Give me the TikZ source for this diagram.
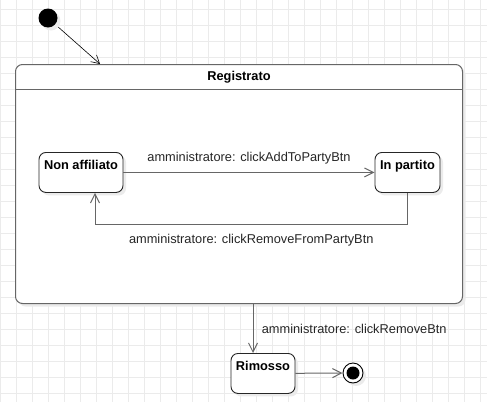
\documentclass[tikz,border=0pt]{standalone}
\usepackage{fontspec}
\setmainfont{Liberation Sans}
\usetikzlibrary{positioning,shadows,arrows.meta,calc}

\begin{document}
\begin{tikzpicture}[x=1pt, y=-1pt,
    font=\fontsize{12.8}{15}\selectfont,
    gridline/.style={draw=black!8, line width=0.6pt},
    softshadow/.style={general shadow={fill=black!8, shadow xshift=3pt, shadow yshift=-3pt}},
    statebox/.style={draw=black!85, fill=white, line width=0.9pt, rounded corners=7pt, softshadow,
      font=\fontsize{12.8}{15}\selectfont\bfseries, inner xsep=3pt, inner ysep=0pt,
      text height=17pt, text depth=23pt, anchor=north},
    trans/.style={draw=black!60, line width=1pt, -{Straight Barb[length=9pt,width=9pt]}},
    lbl/.style={text=black!85}]
      \def \w {487}
      \def \h {402}
      \def \hdr {25} % height of the title bar
      \useasboundingbox (0,0) rectangle (\w,\h);
      \foreach \gx in {0,16,...,480}
               \draw[gridline] (\gx,0) -- (\gx,\h);
      \foreach \gy in {9,25,...,393}
               \draw[gridline] (0,\gy) -- (\w,\gy);

      \node[draw=black!60, fill=white, line width=1pt, rounded corners=7pt, softshadow,
            minimum width=447pt, minimum height=239pt, inner sep=0pt, anchor=north west] (reg) at (15,64) {};
      \draw[black!60, line width=1pt] ($(reg.north west)+(0,\hdr)$) -- ($(reg.north east)+(0,\hdr)$);
      \node[font=\fontsize{12.8}{15}\selectfont\bfseries] (regtitle) at ($(reg.north)+(0,13)$) {Registrato};

      \node[circle, fill=black, minimum size=19pt, inner sep=0pt, softshadow] (init) at (48,18) {};
      \coordinate (entry) at (100,64);
      \draw[-{Straight Barb[length=8pt,width=9pt]}, line width=0.6pt, shorten <=4pt] (init) -- (entry);

      \node[statebox, minimum width=84pt] (nonaff) at (81,152) {Non affiliato};
      \node[statebox, minimum width=65pt] (inpart) at (407.5,152) {In partito};
      \node[statebox, minimum width=64pt] (rimosso) at (263,353) {Rimosso};
      \node[circle, draw=black, fill=white, line width=0.9pt, minimum size=20pt, inner sep=0pt, softshadow,
            path picture={\fill[black] (path picture bounding box.center) circle (6.5pt);}] (fin) at (353,373) {};

      \draw[trans] (nonaff) -- node[lbl, above=4pt] {amministratore: clickAddToPartyBtn} (inpart);
      \draw[trans] (inpart.south) -- ++(0,32) -| node[lbl, pos=0.25, below=5pt] {amministratore: clickRemoveFromPartyBtn}
            ([xshift=14pt]nonaff.south);
      \draw[trans] ([xshift=-10pt]rimosso.north |- reg.south) -- node[lbl, right=5pt] {amministratore: clickRemoveBtn}
            ([xshift=-10pt]rimosso.north);
      \draw[trans] (rimosso) -- (fin);
    \end{tikzpicture}
\end{document}
